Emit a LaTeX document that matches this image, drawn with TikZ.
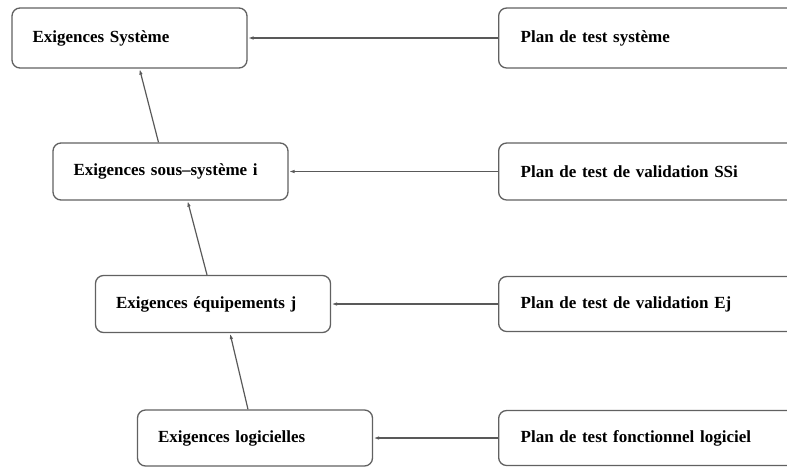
\documentclass[tikz,border=0pt]{standalone}
\usepackage{fontspec}
\setmainfont{Liberation Serif}
\usetikzlibrary{arrows.meta}
\begin{document}
\begin{tikzpicture}[x=1pt,y=-1pt,
  box/.style={draw=black!62, line width=1.3pt, rounded corners=8pt, fill=white,
    minimum width=235pt, text width=194pt, inner xsep=20pt, align=left,
    font=\fontsize{17}{19}\selectfont\bfseries},
  planbox/.style={box, anchor=west, minimum width=320pt, text width=276pt, inner xsep=22pt},
  link/.style={draw=black!65, line width=1.2pt, -{Latex[open,length=6pt,width=3.5pt]}}
]
\useasboundingbox (0,0) rectangle (787,467);
\clip (0,0) rectangle (787,467);
% exigences (gauche)
\node[box, minimum height=60pt] (sys) at (129.5,38) {Exigences Système};
\node[box, minimum height=57pt] (ssi) at (170.5,171.5) {Exigences sous\textendash système i};
\node[box, minimum height=57pt] (eqj) at (213,304) {Exigences équipements j};
\node[box, minimum height=56pt] (log) at (255,438) {Exigences logicielles};
% plans de test (droite)
\node[planbox, minimum height=60pt] (psys) at (498,38) {Plan de test système};
\node[planbox, minimum height=57pt] (pssi) at (498,171.5) {Plan de test de validation SSi};
\node[planbox, minimum height=55pt] (peqj) at (498,304) {Plan de test de validation Ej};
\node[planbox, minimum height=55pt] (plog) at (498,438) {Plan de test fonctionnel logiciel};
% liens horizontaux
\draw[link] (psys.west) -- (sys.east);
\draw[link] (pssi.west) -- (ssi.east);
\draw[link] (peqj.west) -- (eqj.east);
\draw[link] (plog.west) -- (log.east);
% liens verticaux
\draw[link] ([xshift=-12pt]ssi.north) -- ([xshift=10pt]sys.south);
\draw[link] ([xshift=-6pt]eqj.north) -- ([xshift=17pt]ssi.south);
\draw[link] ([xshift=-7pt]log.north) -- ([xshift=17pt]eqj.south);
\end{tikzpicture}
\end{document}
